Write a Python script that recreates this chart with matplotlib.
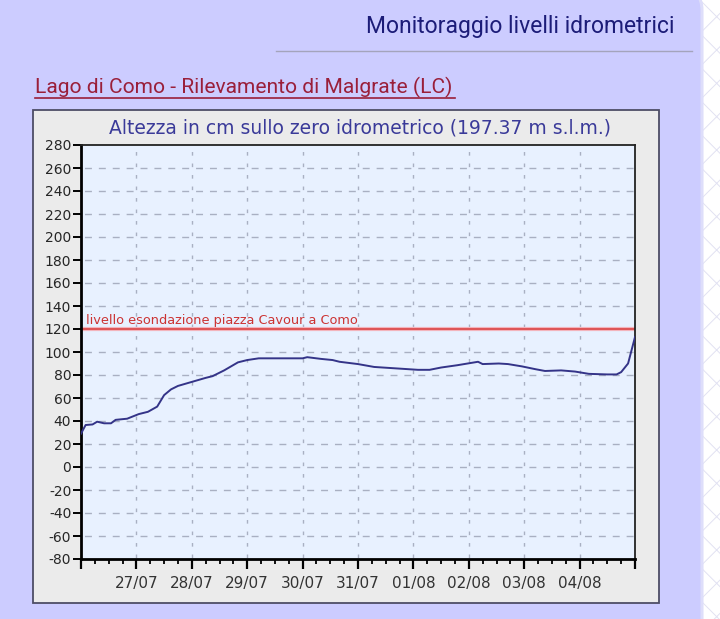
import matplotlib
matplotlib.use('Agg')
import matplotlib.pyplot as plt
import matplotlib.dates as mdates
from matplotlib.patches import Rectangle, FancyBboxPatch
import matplotlib.transforms as mtransforms
import pandas as pd

# ---------------- data ----------------
times = ["2023-07-26 00:00", "2023-07-26 02:00", "2023-07-26 05:00", "2023-07-26 07:00",
         "2023-07-26 10:00", "2023-07-26 13:00", "2023-07-26 15:00", "2023-07-26 20:00",
         "2023-07-27 01:00", "2023-07-27 05:00", "2023-07-27 09:00", "2023-07-27 12:00",
         "2023-07-27 15:00", "2023-07-27 18:00", "2023-07-28 00:00", "2023-07-28 06:00",
         "2023-07-28 09:00", "2023-07-28 14:00", "2023-07-28 20:00", "2023-07-29 00:00",
         "2023-07-29 05:00", "2023-07-30 00:00", "2023-07-30 02:00", "2023-07-30 08:00",
         "2023-07-30 13:00", "2023-07-30 16:00", "2023-07-31 00:00", "2023-07-31 07:00",
         "2023-08-01 02:00", "2023-08-01 07:00", "2023-08-01 12:00", "2023-08-01 19:00",
         "2023-08-02 04:00", "2023-08-02 06:00", "2023-08-02 13:00", "2023-08-02 17:00",
         "2023-08-02 23:00", "2023-08-03 05:00", "2023-08-03 09:00", "2023-08-03 16:00",
         "2023-08-03 22:00", "2023-08-04 04:00", "2023-08-04 12:00", "2023-08-04 13:00",
         "2023-08-04 16:00", "2023-08-04 18:00", "2023-08-04 21:00", "2023-08-05 00:00"]
levels = [29, 36.5, 37, 39.4, 38, 38, 41, 42,
          46, 48, 52.5, 62.5, 67.5, 70.5, 74, 77.5,
          79, 84, 91, 93, 94.5, 94.5, 95.5, 94,
          93, 91.5, 89.5, 87, 84.5, 84.5, 86.5, 88.5,
          91.5, 89.5, 90, 89.5, 87.5, 85, 83.5, 84,
          83, 81, 80.5, 80.5, 80.5, 82.5, 90, 113]
threshold = 120
threshold_label = "livello esondazione piazza Cavour a Como"
y_ticks = list(range(-80, 281, 20))
day_ticks = ["2023-07-26", "2023-07-27", "2023-07-28", "2023-07-29", "2023-07-30", "2023-07-31",
             "2023-08-01", "2023-08-02", "2023-08-03", "2023-08-04", "2023-08-05"]
day_labels = ["", "27/07", "28/07", "29/07", "30/07", "31/07", "01/08", "02/08", "03/08", "04/08", ""]
page_title = "Monitoraggio livelli idrometrici"
station_title = "Lago di Como - Rilevamento di Malgrate (LC)"
chart_title = "Altezza in cm sullo zero idrometrico (197.37 m s.l.m.)"

# ---------------- figure ----------------
W, H = 720, 619
plt.rcParams['font.family'] = ['DejaVu Sans']
plt.rcParams['hatch.linewidth'] = 0.7
fig = plt.figure(figsize=(W / 100, H / 100), dpi=100)
fig.patch.set_facecolor('#ffffff')

bg = fig.add_axes([0, 0, 1, 1])
bg.set_xlim(0, W)
bg.set_ylim(H, 0)
bg.axis('off')

# right patterned strip
bg.add_patch(Rectangle((700, -5), 30, H + 10, facecolor='#ffffff', hatch='x',
                       edgecolor='#e2e2f2', linewidth=0))
# lavender panel
bg.add_patch(FancyBboxPatch((-40, -10), 742, H + 60,
                            boxstyle="round,pad=0,rounding_size=20",
                            facecolor='#ccccff', edgecolor='#dedefa', linewidth=2.2))

bg.text(675, 27, page_title, ha='right', va='center', fontsize=16.5,
        family=['Roboto', 'DejaVu Sans'], color='#1c1c78')
bg.plot([276, 692], [51, 51], color='#a4a4bc', lw=1)
bg.text(35, 87, station_title, ha='left', va='center', fontsize=15.1,
        family=['Roboto', 'DejaVu Sans'], color='#9a1f3a')
bg.plot([35, 455], [98, 98], color='#9a1f3a', lw=1.2)

# chart box
bg.add_patch(Rectangle((33, 110), 626, 493, facecolor='#ebebeb', edgecolor='#4d4d66', lw=1.3))
bg.text(360, 128, chart_title, ha='center', va='center', fontsize=13.5,
        family='DejaVu Sans', color='#3a3a99')

# ---------------- plot ----------------
ax = fig.add_axes([81 / W, 1 - 559 / H, 554 / W, 414 / H])
ax.set_facecolor('#e8f1ff')

t = pd.to_datetime(times)
d_ticks = pd.to_datetime(day_ticks)
ax.set_xlim(d_ticks[0], d_ticks[-1])
ax.set_ylim(y_ticks[0], y_ticks[-1])

# grid
for y in y_ticks[1:-1]:
    ax.axhline(y, color='#a9b0c2', lw=1, linestyle=(7.5, (5.0, 5.0)), zorder=1)
for d in d_ticks[1:-1]:
    ax.axvline(d, color='#a9b0c2', lw=1, linestyle=(7.3, (2.6, 5.68)), zorder=1)

# threshold
ax.axhline(threshold, color='#f3b4bc', lw=3.0, zorder=2)
ax.axhline(threshold, color='#d83a3a', lw=1.1, zorder=2)
trans = mtransforms.blended_transform_factory(ax.transAxes, ax.transData)
ax.text(0.009, threshold + 1.5, threshold_label, transform=trans, fontsize=9.3,
        color='#cc3333', ha='left', va='bottom', zorder=3)

ax.plot(t, levels, color='#343488', lw=1.4, zorder=4)

# axes styling
for s in ['left', 'bottom']:
    ax.spines[s].set_linewidth(2)
    ax.spines[s].set_color('#000000')
for s in ['top', 'right']:
    ax.spines[s].set_linewidth(1.3)
    ax.spines[s].set_color('#222222')

ax.set_yticks(y_ticks)
ax.set_yticklabels([str(v) for v in y_ticks])
ax.set_xticks(d_ticks)
ax.set_xticklabels(day_labels)
ax.xaxis.set_minor_locator(mdates.HourLocator(byhour=[6, 12, 18]))
ax.tick_params(axis='y', direction='out', length=5.5, width=1.4, labelsize=10,
               labelcolor='#262626', pad=1.5)
ax.tick_params(axis='x', which='major', direction='out', length=7.2, width=1.6,
               labelsize=11, labelcolor='#333333', pad=5)
ax.tick_params(axis='x', which='minor', direction='out', length=3.8, width=1.3)

fig.savefig('out.png', dpi=100, facecolor=fig.get_facecolor())
